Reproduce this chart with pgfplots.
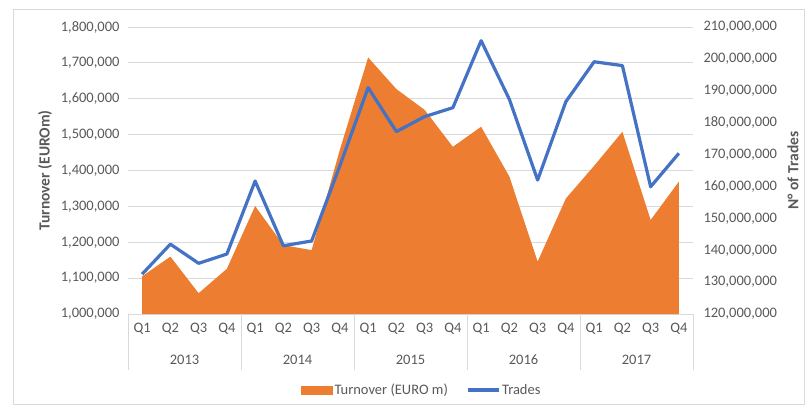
\documentclass[border=0pt]{standalone}
\usepackage{fontspec}
\setmainfont{Carlito}
\usepackage{pgfplots}
\pgfplotsset{compat=1.18}
\definecolor{orangeE}{RGB}{237,125,49}
\definecolor{blueE}{RGB}{68,114,196}
\definecolor{gridgray}{RGB}{217,217,217}
\definecolor{tickgray}{RGB}{89,89,89}
\newcommand{\TickFont}{\fontsize{14.5}{17}\selectfont}
\newcommand{\TitleFont}{\fontsize{15.5}{18}\selectfont}

\begin{document}
\begin{tikzpicture}[x=1pt,y=1pt]
\useasboundingbox (0,0) rectangle (805,407);
\draw[gridgray, line width=0.8pt] (13.5,3) rectangle (804.5,398);

\begin{axis}[
    scale only axis,
    width=565pt, height=287pt,
    at={(128pt,93pt)}, anchor=south west,
    xmin=-0.5, xmax=19.5,
    ymin=1000000, ymax=1800000,
    ytick={1000000,1100000,1200000,1300000,1400000,1500000,1600000,1700000,1800000},
    scaled y ticks=false,
    yticklabel style={/pgf/number format/fixed, /pgf/number format/1000 sep={,}, /pgf/number format/assume math mode=true},
    xtick={0,...,19},
    xticklabels={Q1,Q2,Q3,Q4,Q1,Q2,Q3,Q4,Q1,Q2,Q3,Q4,Q1,Q2,Q3,Q4,Q1,Q2,Q3,Q4},
    tick label style={font=\TickFont, text=tickgray},
    xticklabel style={yshift=-6pt},
    yticklabel style={xshift=-5pt},
    major tick length=0pt,
    axis line style={draw=none},
    ymajorgrids, grid style={draw=gridgray, line width=0.8pt},
    ylabel={\textbf{Turnover (EUROm)}},
    ylabel style={at={(rel axis cs:-0.147,0.5)}, anchor=center, font=\TitleFont, text=tickgray},
    clip=false
]
\addplot[fill=orangeE, draw=none] coordinates {
  (0,1105000) (1,1160000) (2,1058000) (3,1126000)
  (4,1301000) (5,1192000) (6,1178000) (7,1458000)
  (8,1715000) (9,1627000) (10,1569000) (11,1466000)
  (12,1522000) (13,1383000) (14,1146000) (15,1322000)
  (16,1413000) (17,1508000) (18,1262000) (19,1369000)
} \closedcycle;
\pgfplotsinvokeforeach{-0.5,3.5,7.5,11.5,15.5,19.5}{
  \draw[gridgray, line width=0.8pt] (axis cs:#1,1000000) -- (axis cs:#1,843900);
}
\node[font=\TickFont, text=tickgray] at (axis cs:1.5,1000000) [yshift=-46pt] {2013};
\node[font=\TickFont, text=tickgray] at (axis cs:5.5,1000000) [yshift=-46pt] {2014};
\node[font=\TickFont, text=tickgray] at (axis cs:9.5,1000000) [yshift=-46pt] {2015};
\node[font=\TickFont, text=tickgray] at (axis cs:13.5,1000000) [yshift=-46pt] {2016};
\node[font=\TickFont, text=tickgray] at (axis cs:17.5,1000000) [yshift=-46pt] {2017};
\end{axis}

\begin{axis}[
    scale only axis,
    width=565pt, height=287pt,
    at={(128pt,93pt)}, anchor=south west,
    xmin=-0.5, xmax=19.5,
    ymin=120000000, ymax=210000000,
    ytick={120000000,130000000,140000000,150000000,160000000,170000000,180000000,190000000,200000000,210000000},
    scaled y ticks=false,
    yticklabel style={/pgf/number format/fixed, /pgf/number format/1000 sep={,}, /pgf/number format/assume math mode=true, xshift=7pt},
    axis y line*=right,
    hide x axis,
    y axis line style={draw=none},
    major tick length=0pt,
    tick label style={font=\TickFont, text=tickgray},
    ylabel={\textbf{N° of Trades}},
    ylabel style={at={(rel axis cs:1.177,0.5)}, anchor=center, rotate=0, font=\TitleFont, text=tickgray},
    legend style={at={(0.52,-0.265)}, anchor=center, draw=none, fill=none,
      legend columns=2, font=\TickFont, text=tickgray,
      /tikz/every even column/.append style={column sep=16pt}},
    clip=false
]
\addlegendimage{legend image code/.code={\fill[orangeE] (0pt,-4pt) rectangle (31pt,4pt);}}
\addlegendentry{Turnover (EURO m)}
\addplot[blueE, line width=3.2pt, line join=round, mark=none,
  legend image code/.code={\draw[blueE, line width=3.2pt] (0pt,0pt) -- (31pt,0pt);}] coordinates {
  (0,132500000) (1,141900000) (2,135900000) (3,138800000)
  (4,161700000) (5,141400000) (6,142900000) (7,166500000)
  (8,191000000) (9,177200000) (10,181900000) (11,184700000)
  (12,205700000) (13,187300000) (14,162000000) (15,186600000)
  (16,199100000) (17,197900000) (18,159900000) (19,170400000)
};
\addlegendentry{Trades}
\end{axis}
\end{tikzpicture}
\end{document}
